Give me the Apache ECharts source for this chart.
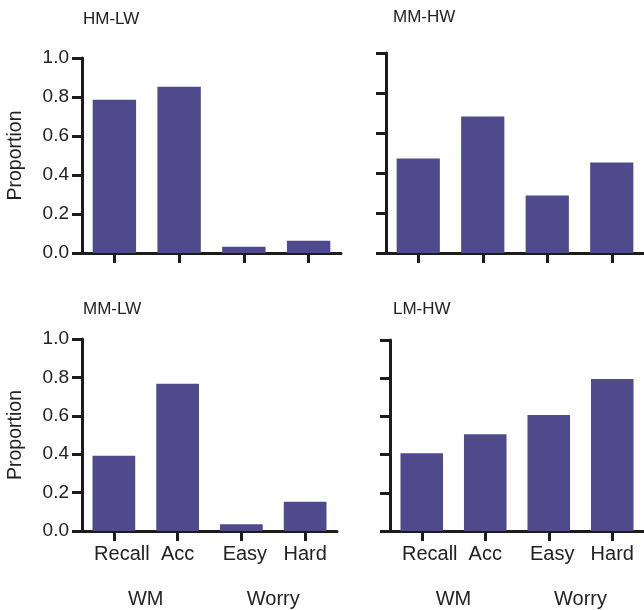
<!DOCTYPE html>
<html>
<head>
<meta charset="utf-8">
<script src="https://cdn.jsdelivr.net/npm/echarts@6/dist/echarts.min.js"></script>
<style>
html,body{margin:0;padding:0;background:#fff;}
#c{width:644px;height:610px;}
</style>
</head>
<body>
<div id="c"></div>
<script>
// ---- data ----
const categories = ['Recall', 'Acc', 'Easy', 'Hard'];
const groups = ['WM', 'Worry'];
const panelTitles = ['HM-LW', 'MM-HW', 'MM-LW', 'LM-HW'];
const hmlw = [0.786, 0.853, 0.032, 0.063];
const mmhw = [0.472, 0.682, 0.287, 0.452];
const mmlw = [0.392, 0.767, 0.035, 0.152];
const lmhw = [0.407, 0.507, 0.607, 0.796];
const yName = 'Proportion';
const yMin = 0, yMax = 1, yStep = 0.2;

// ---- styles ----
const FONT = 'Liberation Sans, Arial, sans-serif';
const BAR = '#4f4a8b';
const AX = '#1c1c1c';
const TXT = '#222';

const grids = [
  {left: 82, top: 58, width: 259, height: 195},
  {left: 386, top: 53, width: 264, height: 200},
  {left: 82, top: 339, width: 255, height: 192},
  {left: 390, top: 340, width: 255, height: 191}
];
const seriesData = [hmlw, mmhw, mmlw, lmhw];
const showYLabels = [true, false, true, false];
const showXLabels = [false, false, true, true];

const xAxes = [], yAxes = [], series = [];
grids.forEach((g, i) => {
  xAxes.push({
    type: 'category', gridIndex: i, data: categories,
    axisLine: {lineStyle: {color: AX, width: 3}},
    axisTick: {show: true, alignWithLabel: true, interval: 0, length: 10, lineStyle: {color: AX, width: 3}},
    axisLabel: {
      show: showXLabels[i], interval: 0, fontFamily: FONT, fontSize: 20, color: TXT, margin: 13,
      formatter: v => v === 'Recall' ? '{r|' + v + '}' : (v === 'Easy' ? '{e|' + v + '}' : '{n|' + v + '}'),
      rich: {r: {padding: [0, 0, 0, 16], fontSize: 20, fontFamily: FONT, color: TXT},
             e: {padding: [0, 0, 0, 7], fontSize: 20, fontFamily: FONT, color: TXT},
             n: {fontSize: 20, fontFamily: FONT, color: TXT}}
    },
    splitLine: {show: false}
  });
  yAxes.push({
    type: 'value', gridIndex: i, min: yMin, max: yMax, interval: yStep,
    name: showYLabels[i] ? yName : '', nameLocation: 'middle', nameGap: 56,
    nameTextStyle: {fontFamily: FONT, fontSize: 19.5, color: TXT},
    axisLine: {show: true, lineStyle: {color: AX, width: 3}},
    axisTick: {show: true, length: 10, lineStyle: {color: AX, width: 3}},
    axisLabel: {show: showYLabels[i], fontFamily: FONT, fontSize: 19, color: TXT, margin: 13,
                formatter: v => v.toFixed(1)},
    splitLine: {show: false}
  });
  series.push({
    type: 'bar', xAxisIndex: i, yAxisIndex: i, data: seriesData[i],
    barWidth: '67%', itemStyle: {color: BAR}, silent: true
  });
});

// group labels under bottom panels
[2, 3].forEach(i => {
  xAxes.push({
    type: 'category', gridIndex: i, data: groups, position: 'bottom', offset: 52,
    axisLine: {show: false}, axisTick: {show: false},
    axisLabel: {interval: 0, fontFamily: FONT, fontSize: 20, color: TXT, margin: 6}
  });
});

const titles = [
  {text: panelTitles[0], left: 83, top: 11},
  {text: panelTitles[1], left: 393, top: 9},
  {text: panelTitles[2], left: 83, top: 301},
  {text: panelTitles[3], left: 393, top: 301}
].map(t => Object.assign(t, {padding: 0, textStyle: {fontFamily: FONT, fontSize: 17, fontWeight: 'normal', color: TXT}}));

const chart = echarts.init(document.getElementById('c'), null, {renderer: 'canvas'});
chart.setOption({
  animation: false,
  backgroundColor: '#fff',
  title: titles,
  grid: grids,
  xAxis: xAxes,
  yAxis: yAxes,
  series: series
});
</script>
</body>
</html>
